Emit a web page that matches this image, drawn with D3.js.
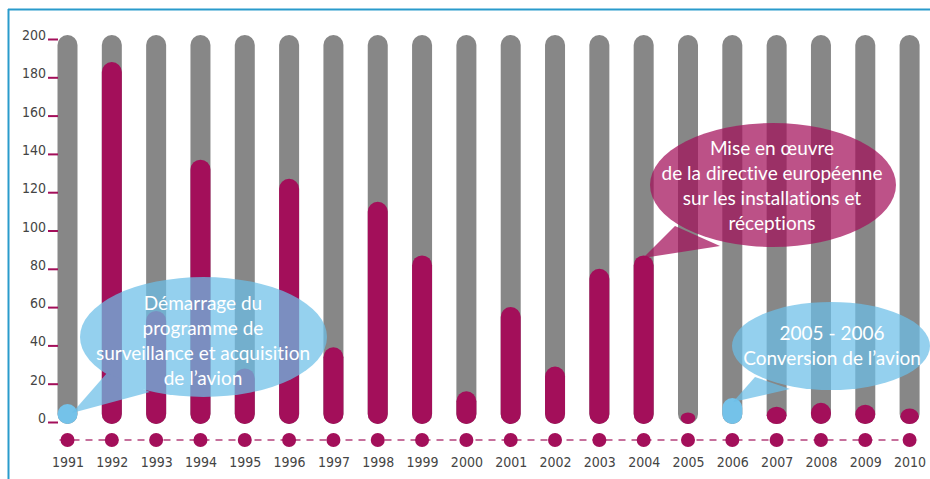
<!DOCTYPE html>
<html><head><meta charset="utf-8">
<script src="https://cdn.jsdelivr.net/npm/d3@7/dist/d3.min.js"></script>
<style>
html,body{margin:0;padding:0;background:#fff;}
svg{display:block;}
.num{font-family:'Liberation Sans Narrow','DejaVu Sans Condensed','Liberation Sans',sans-serif;font-size:14px;fill:#444;}
.bub{font-family:Lato,'Open Sans',sans-serif;font-size:19px;fill:#fff;font-variant-ligatures:none;}
</style></head>
<body>
<svg id="c" width="930" height="479"></svg>
<script>
const years = ["1991","1992","1993","1994","1995","1996","1997","1998","1999","2000",
               "2001","2002","2003","2004","2005","2006","2007","2008","2009","2010"];
const values = [8,188,58,137,28,127,39,115,87,16,60,29,80,87,5,12.5,8,10,9,7];
const highlighted = ["1991","2006"];
const yTicks = [0,20,40,60,80,100,120,140,160,180,200];
const maxValue = 200;

const callout1Lines = ["Démarrage du","programme de","surveillance et acquisition","de l’avion"];
const callout2Lines = ["Mise en œuvre","de la directive européenne","sur les installations et","réceptions"];
const callout3Lines = ["2005 - 2006","Conversion de l’avion"];

const GRAY="#878787", MAG="#A30F5A", BLUE="#74C2E9", FRAME="#2A9BCC";

const svg = d3.select("#c");
const x = d3.scalePoint().domain(years).range([67.5, 909.6]);
const y = d3.scaleLinear().domain([0, maxValue]).range([422, 39]);
const bw = 20;
const bottom = y(0) + 2;

// frame
svg.append("line").attr("x1",8).attr("x2",930).attr("y1",9.5).attr("y2",9.5).attr("stroke",FRAME).attr("stroke-width",2);
svg.append("line").attr("x1",8.5).attr("x2",8.5).attr("y1",9).attr("y2",479).attr("stroke",FRAME).attr("stroke-width",2);

function pill(cx, top, bot, w){
  const h = bot - top;
  const ww = Math.min(w, h + 3);
  const r = ww/2, ry = Math.min(r, h/2);
  return {x: cx - ww/2, y: top, w: ww, h: h, rx: r, ry: ry};
}

// background bars
svg.append("g").selectAll("rect").data(years).join("rect")
  .each(function(d){
    const p = pill(x(d), y(maxValue) - 4, bottom, bw);
    d3.select(this).attr("x",p.x).attr("y",p.y).attr("width",p.w).attr("height",p.h).attr("rx",p.rx).attr("ry",p.ry);
  })
  .attr("fill",GRAY);

// value bars
svg.append("g").selectAll("rect").data(years.map((yr,i)=>({yr, v: values[i]}))).join("rect")
  .each(function(d){
    let p;
    if (d.yr === "1991") {
      p = {x: x(d.yr)-10, y: bottom-20, w: 20, h: 20, rx: 10, ry: 10};
    } else {
      p = pill(x(d.yr), y(d.v), bottom, bw);
    }
    d3.select(this).attr("x",p.x).attr("y",p.y).attr("width",p.w).attr("height",p.h).attr("rx",p.rx).attr("ry",p.ry);
  })
  .attr("fill", d => highlighted.includes(d.yr) ? BLUE : MAG);

// y axis
const yAxis = svg.append("g").attr("transform","translate(58,0)")
  .call(d3.axisLeft(y).tickValues(yTicks).tickSize(10).tickPadding(2).tickFormat(d3.format("d")));
yAxis.select(".domain").remove();
yAxis.selectAll(".tick line").attr("stroke",MAG).attr("stroke-width",2);
yAxis.selectAll(".tick text").attr("class","num").attr("dy","0").attr("y",0.5);

// dots row
const dotY = 440;
svg.append("line").attr("x1",x(years[0])-8).attr("x2",x(years[years.length-1])+8)
  .attr("y1",dotY).attr("y2",dotY).attr("stroke","#B4417C").attr("stroke-width",1.5).attr("stroke-dasharray","7,6");
svg.append("g").selectAll("circle").data(years).join("circle")
  .attr("cx",d=>x(d)).attr("cy",dotY).attr("r",7).attr("fill",MAG);

// x axis labels
const xAxis = svg.append("g").attr("transform","translate(0,467)")
  .call(d3.axisBottom(x).tickSize(0).tickPadding(0));
xAxis.select(".domain").remove();
xAxis.selectAll(".tick text").attr("class","num").attr("y",0).attr("dy","0");

// callouts
function callout(cx, cy, rx, ry, tail, color, lines, tx, ty0, lh){
  const g = svg.append("g").attr("opacity",0.72);
  g.append("ellipse").attr("cx",cx).attr("cy",cy).attr("rx",rx).attr("ry",ry).attr("fill",color);
  g.append("polygon").attr("points",tail.map(p=>p.join(",")).join(" ")).attr("fill",color);
  const t = svg.append("g");
  lines.forEach((l,i)=>{
    t.append("text").attr("class","bub").attr("x",tx).attr("y",ty0+i*lh+6.5).attr("text-anchor","middle").text(l);
  });
}
callout(203.5, 337, 123.5, 60, [[107,373],[72,413],[150,392]], "#6CBFE8", callout1Lines, 203, 303, 25);
callout(773, 185, 123, 62, [[675,226],[643,258],[720,246]], MAG, callout2Lines, 772, 148, 25);
callout(831, 346, 99, 44, [[755,377],[733,402],[790,389]], "#6CBFE8", callout3Lines, 832, 333, 25);
</script>
</body></html>
